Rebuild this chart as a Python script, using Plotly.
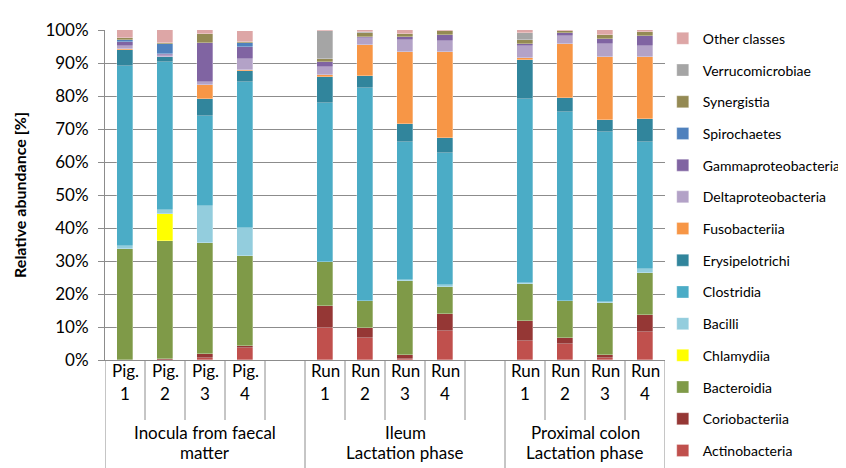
import plotly.graph_objects as go

# ---- data ----
groups = ["Inocula from faecal", "Ileum", "Proximal colon"]
groups_line2 = ["matter", "Lactation phase", "Lactation phase"]
sample_line1 = ["Pig.", "Pig.", "Pig.", "Pig.", "Run", "Run", "Run", "Run", "Run", "Run", "Run", "Run"]
sample_line2 = ["1", "2", "3", "4", "1", "2", "3", "4", "1", "2", "3", "4"]
samples = ["Pig 1", "Pig 2", "Pig 3", "Pig 4",
           "Ileum Run 1", "Ileum Run 2", "Ileum Run 3", "Ileum Run 4",
           "Colon Run 1", "Colon Run 2", "Colon Run 3", "Colon Run 4"]

classes = ["Actinobacteria", "Coriobacteriia", "Bacteroidia", "Chlamydiia", "Bacilli",
           "Clostridia", "Erysipelotrichi", "Fusobacteriia", "Deltaproteobacteria",
           "Gammaproteobacteria", "Spirochaetes", "Synergistia", "Verrucomicrobiae",
           "Other classes"]

actinobacteria = [0, 0, 0.5, 3.7, 9.6, 6.8, 0.3, 8.8, 5.9, 4.8, 0.5, 8.4]
coriobacteriia = [0, 0.3, 1.2, 0.5, 6.8, 2.8, 1.2, 5.2, 6.0, 2.0, 1.0, 5.1]
bacteroidia = [33.6, 35.9, 33.9, 27.3, 13.3, 8.4, 22.3, 8.2, 11.2, 11.2, 15.9, 12.9]
chlamydiia = [0, 7.9, 0, 0, 0, 0, 0, 0, 0, 0, 0, 0]
bacilli = [0.9, 1.4, 11.1, 8.6, 0, 0, 0.3, 0.5, 0.3, 0, 0.3, 1.2]
clostridia = [54.7, 44.7, 27.2, 44.1, 48.3, 64.3, 42.1, 40.1, 55.6, 57.3, 51.5, 38.6]
erysipelotrichi = [4.7, 1.6, 5.1, 3.5, 7.8, 3.7, 5.4, 4.4, 11.9, 4.2, 3.5, 6.7]
fusobacteriia = [0.2, 0, 4.3, 0.3, 0.7, 9.5, 21.6, 26.0, 0.7, 16.2, 19.2, 18.8]
deltaproteobacteria = [1.0, 0.6, 1.0, 3.2, 2.4, 2.2, 3.8, 3.6, 3.6, 2.4, 4.0, 3.5]
gammaproteobacteria = [1.3, 0.3, 11.7, 3.8, 1.3, 0.3, 0.9, 1.7, 0.7, 1.0, 1.4, 3.1]
spirochaetes = [0.7, 3.0, 0, 1.0, 0, 0, 0, 0, 0, 0, 0, 0]
synergistia = [0.6, 0.3, 2.8, 0.4, 1.1, 1.2, 0.8, 1.2, 1.1, 0.6, 1.1, 1.0]
verrucomicrobiae = [0, 0, 0, 0, 8.4, 0.3, 0, 0, 2.1, 0, 0, 0]
other_classes = [2.2, 4.0, 1.2, 3.4, 0.2, 0.5, 1.3, 0.3, 0.9, 0.3, 1.6, 0.7]

y_ticks = [0, 10, 20, 30, 40, 50, 60, 70, 80, 90, 100]

# ---- styling ----
series = [actinobacteria, coriobacteriia, bacteroidia, chlamydiia, bacilli, clostridia,
          erysipelotrichi, fusobacteriia, deltaproteobacteria, gammaproteobacteria,
          spirochaetes, synergistia, verrucomicrobiae, other_classes]
colors = ["#C0504D", "#953735", "#7F9A48", "#FFFF00", "#93CDDD", "#4BACC6", "#31859C",
          "#F79646", "#B3A2C7", "#8064A2", "#4F81BD", "#948A54", "#A5A5A5", "#DDA6A6"]

FONT = "Lato"
GRID = "#8C8C8C"
XFS = 17

# slots: 4 samples per group, with an empty slot between groups
slots = []
slot_of_sample = []
for g in range(len(groups)):
    for k in range(4):
        slot_of_sample.append(len(slots))
        slots.append(samples[g * 4 + k])
    if g < len(groups) - 1:
        slots.append("gap%d" % g)

fig = go.Figure()
for idx, (name, vals, col) in enumerate(zip(classes, series, colors)):
    yv = [None] * len(slots)
    for i, v in enumerate(vals):
        yv[slot_of_sample[i]] = v
    fig.add_trace(go.Bar(
        x=slots, y=yv, name=name, legendgroup=name,
        legendrank=100 - idx,
        marker=dict(color=col, line=dict(color="rgba(255,255,255,0.6)", width=0.5)),
        width=0.4,
    ))

def py(pix):
    # pixel row -> paper y (plot area 22..352)
    return (352 - pix) / 330.0

n = len(slots)
group_bounds = [-0.5] + [slots.index("gap%d" % g) + 0.5 for g in range(len(groups) - 1)] + [n - 0.5]

ann = []
shapes = []
for i in range(len(samples)):
    xs = slot_of_sample[i]
    ann.append(dict(x=xs, y=py(375), xref="x", yref="paper", text=sample_line1[i],
                    showarrow=False, font=dict(size=XFS, family=FONT, color="#000")))
    ann.append(dict(x=xs, y=py(398), xref="x", yref="paper", text=sample_line2[i],
                    showarrow=False, font=dict(size=XFS, family=FONT, color="#000")))
for g in range(len(groups)):
    xc = (group_bounds[g] + group_bounds[g + 1]) / 2.0
    ann.append(dict(x=xc, y=py(437), xref="x", yref="paper", text=groups[g],
                    showarrow=False, font=dict(size=XFS, family=FONT, color="#000")))
    ann.append(dict(x=xc, y=py(457), xref="x", yref="paper", text=groups_line2[g],
                    showarrow=False, font=dict(size=XFS, family=FONT, color="#000")))

# separators
for b in range(n + 1):
    xb = b - 0.5
    y1 = py(470) if xb in group_bounds else py(412)
    shapes.append(dict(type="line", xref="x", yref="paper", x0=xb, x1=xb, y0=0, y1=y1,
                       line=dict(color=GRID, width=1)))

fig.update_layout(
    width=846, height=468,
    margin=dict(l=97, r=189, t=22, b=116, autoexpand=False),
    paper_bgcolor="white", plot_bgcolor="white",
    barmode="stack", bargap=0,
    font=dict(family=FONT, size=15, color="#000"),
    showlegend=True,
    legend=dict(x=0.996, y=1.022, xanchor="left", yanchor="top",
                traceorder="grouped", tracegroupgap=10.5, maxheight=1.0,
                font=dict(size=14, family=FONT, color="#000"),
                itemwidth=30, bgcolor="rgba(0,0,0,0)"),
    annotations=ann, shapes=shapes,
)
fig.update_xaxes(type="category", categoryorder="array", categoryarray=slots,
                 range=[-0.5, n - 0.5], showticklabels=False, ticks="",
                 showgrid=False, showline=True, linecolor=GRID, linewidth=1,
                 zeroline=False)
fig.update_yaxes(range=[0, 100], tickvals=y_ticks, ticktext=["%d%%" % v for v in y_ticks],
                 showgrid=True, gridcolor=GRID, gridwidth=1,
                 showline=True, linecolor=GRID, linewidth=1,
                 ticks="outside", ticklen=6, tickcolor=GRID,
                 ticklabelstandoff=6,
                 tickfont=dict(size=17, family=FONT),
                 zeroline=False,
                 title=dict(text="<b>Relative abundance [%]</b>", standoff=14,
                            font=dict(size=16, family=FONT)))

fig.write_html("out.html")
